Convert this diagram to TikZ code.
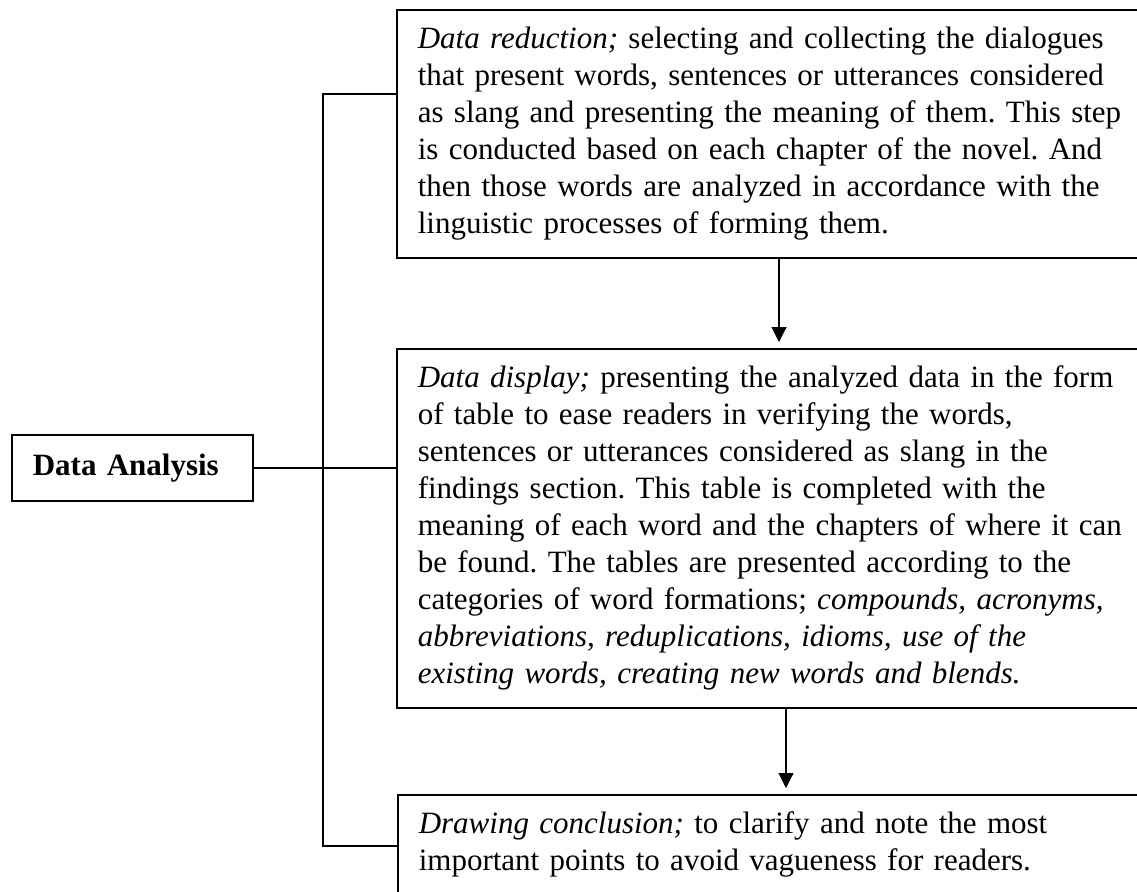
\documentclass[tikz,border=0pt]{standalone}
\usepackage{fontspec}
\setmainfont{Liberation Serif}
\usetikzlibrary{arrows.meta}
\frenchspacing
\tikzset{
  txt/.style={font=\fontsize{31}{37}\selectfont\frenchspacing},
  box/.style={draw, line width=1.6pt, anchor=north west, align=left,
    inner xsep=21pt, inner ysep=13pt, text width=760pt, txt},
  dabox/.style={draw, line width=1.6pt, anchor=north west, align=left,
    inner xsep=21pt, inner ysep=0pt, text width=199pt, minimum height=66pt,
    font=\fontsize{31}{37}\selectfont\bfseries},
  conn/.style={line width=1.4pt},
  arr/.style={line width=1.1pt, -{Triangle[width=15pt,length=15pt]}, shorten >=6pt},
}
\begin{document}
\begin{tikzpicture}[x=1pt,y=-1pt]
\clip (0,0) rectangle (1137,891);
\fill[white] (0,0) rectangle (1137,891);
\node[box] (B1) at (396,9) {\strut\textit{Data reduction;} selecting and collecting the dialogues\\
that present words, sentences or utterances considered\\
as slang and presenting the meaning of them. This step\\
is conducted based on each chapter of the novel. And\\
then those words are analyzed in accordance with the\\
linguistic processes of forming them.\strut};
\node[box] (B2) at (396,348) {\strut\textit{Data display;} presenting the analyzed data in the form\\
of table to ease readers in verifying the words,\\
sentences or utterances considered as slang in the\\
findings section. This table is completed with the\\
meaning of each word and the chapters of where it can\\
be found. The tables are presented according to the\\
categories of word formations; \textit{compounds, acronyms,}\\
\textit{abbreviations, reduplications, idioms, use of the}\\
\textit{existing words, creating new words and blends.}\strut};
\node[box] (B3) at (397,794) {\strut\textit{Drawing conclusion;} to clarify and note the most\\
important points to avoid vagueness for readers.\strut\\\strut};
\node[dabox] (DA) at (11,434) {Data Analysis};
\coordinate (j1) at (323,94);
\coordinate (j3) at (323,846);
\coordinate (a1) at (779,0);
\coordinate (a2) at (786,0);
\draw[conn] (B1.west |- j1) -- (j1) -- (j3) -- (B3.west |- j3);
\draw[conn] (DA.east) -- (DA.east -| B2.west);
\draw[arr] (B1.south -| a1) -- (B2.north -| a1);
\draw[arr] (B2.south -| a2) -- (B3.north -| a2);
\end{tikzpicture}
\end{document}
